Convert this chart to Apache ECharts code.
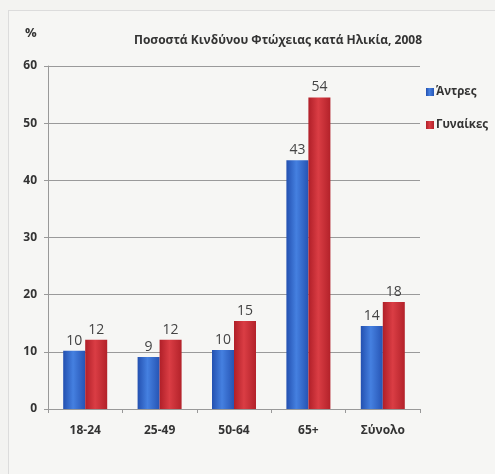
<!DOCTYPE html>
<html>
<head>
<meta charset="utf-8">
<script src="https://cdn.jsdelivr.net/npm/echarts@6/dist/echarts.min.js"></script>
<style>
html,body{margin:0;padding:0;background:#f3f3f1;}
#frame{position:absolute;left:8px;top:10px;width:487px;height:464px;border-left:1px solid #dcdcdc;border-top:1px solid #dcdcdc;background:#f6f6f4;}
#c{position:absolute;left:0;top:0;width:495px;height:474px;}
</style>
</head>
<body>
<div id="frame"></div>
<div id="c"></div>
<script>
const categories = ['18-24', '25-49', '50-64', '65+', 'Σύνολο'];
const men = [10.2, 9.1, 10.3, 43.5, 14.5];
const women = [12.1, 12.1, 15.4, 54.5, 18.7];
const menLabels = [10, 9, 10, 43, 14];
const womenLabels = [12, 12, 15, 54, 18];
const yTicks = [0, 10, 20, 30, 40, 50, 60];

const FONT = '"Open Sans", "Noto Sans", sans-serif';
const chart = echarts.init(document.getElementById('c'));

function grad(c1, c2, c3) {
  return new echarts.graphic.LinearGradient(0, 0, 1, 0, [
    {offset: 0, color: c1}, {offset: 0.45, color: c2}, {offset: 1, color: c3}
  ]);
}

chart.setOption({
  backgroundColor: 'transparent',
  textStyle: {fontFamily: FONT},
  title: [{
    text: 'Ποσοστά Κινδύνου Φτώχειας κατά Ηλικία, 2008',
    left: 273, top: 30, textAlign: 'center',
    textStyle: {fontSize: 12, fontWeight: 'bold', color: '#333', fontFamily: FONT}
  }, {
    text: '%', left: 20, top: 22,
    textStyle: {fontSize: 13, fontWeight: 'bold', color: '#333', fontFamily: FONT}
  }],
  legend: {
    orient: 'vertical', left: 421, top: 81, itemGap: 21,
    itemWidth: 8, itemHeight: 8, icon: 'rect',
    textStyle: {fontSize: 11.5, fontWeight: 'bold', color: '#333', fontFamily: FONT, padding: [0,0,0,-3]},
    data: ['Άντρες', 'Γυναίκες']
  },
  grid: {left: 48, right: 75, top: 66, bottom: 65, containLabel: false},
  xAxis: {
    type: 'category', data: categories,
    axisLine: {lineStyle: {color: '#999'}},
    axisTick: {show: true, length: 4, lineStyle: {color: '#999'}},
    axisLabel: {fontSize: 12, fontWeight: 'bold', color: '#333', margin: 16, fontFamily: FONT}
  },
  yAxis: {
    type: 'value', min: 0, max: 60, interval: 10,
    axisLine: {show: true, lineStyle: {color: '#999'}},
    axisTick: {show: true, length: 4, lineStyle: {color: '#999'}},
    splitLine: {lineStyle: {color: '#9a9a9a'}},
    axisLabel: {fontSize: 12, fontWeight: 'bold', color: '#333', margin: 11, fontFamily: FONT,
      formatter: v => yTicks.includes(v) ? String(v) : ''}
  },
  series: [{
    name: 'Άντρες', type: 'bar', data: men,
    barWidth: 22, barGap: '0%',
    itemStyle: {color: grad('#2350b0', '#4580e0', '#2654b4')},
    label: {show: true, position: 'top', distance: 3, fontSize: 14, color: '#444', fontFamily: FONT,
      formatter: p => String(menLabels[p.dataIndex])}
  }, {
    name: 'Γυναίκες', type: 'bar', data: women,
    barWidth: 22,
    itemStyle: {color: grad('#b01f28', '#da3d44', '#b3222a')},
    label: {show: true, position: 'top', distance: 3, fontSize: 14, color: '#444', fontFamily: FONT,
      formatter: p => String(womenLabels[p.dataIndex])}
  }],
  color: ['#2f62c8', '#c4282f']
});
</script>
</body>
</html>
